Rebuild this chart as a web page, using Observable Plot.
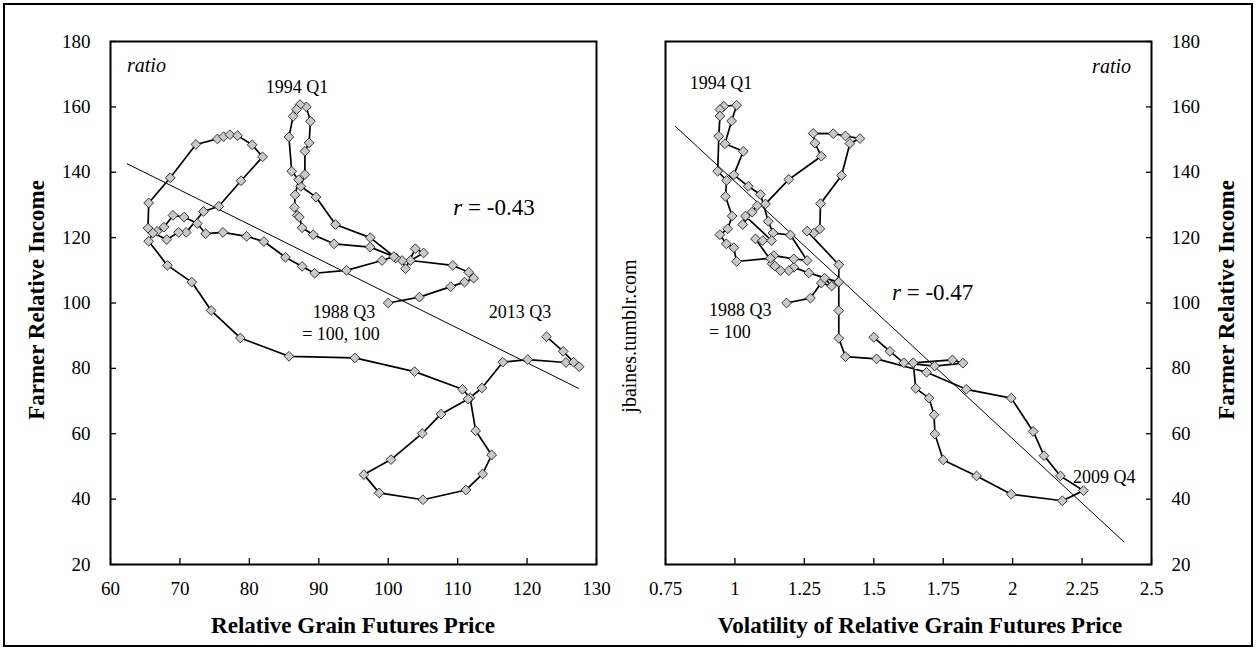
<!DOCTYPE html>
<html><head><meta charset="utf-8">
<script src="https://cdn.jsdelivr.net/npm/d3@7"></script>
<script src="https://cdn.jsdelivr.net/npm/@observablehq/plot@0.6"></script>
<style>
body{margin:0;background:#fff;}
#wrap{position:relative;width:1256px;height:650px;overflow:hidden;font-family:"Liberation Serif","Times New Roman",serif;background:#fff;}
#border{position:absolute;left:3px;top:3px;width:1250px;height:644px;border:2px solid #000;box-sizing:border-box;}
.p{position:absolute;top:0;}
.t{position:absolute;white-space:nowrap;color:#000;line-height:1;font-family:"Liberation Serif","Times New Roman",serif;}
.b{font-weight:bold;font-size:23px;}
.rot{transform:translate(-50%,-50%) rotate(-90deg);}
</style></head><body><div id="wrap"><div id="border"></div></div>
<script>
// ---- data ----
const incomeTicks = [20, 40, 60, 80, 100, 120, 140, 160, 180];
const priceTicks = [60, 70, 80, 90, 100, 110, 120, 130];
const volTicks = [0.75, 1, 1.25, 1.5, 1.75, 2, 2.25, 2.5];
const volTickLabels = ["0.75", "1", "1.25", "1.5", "1.75", "2", "2.25", "2.5"];

// Left panel: relative grain futures price vs farmer relative income (quarterly, 1988 Q3 -> 2013 Q3)
const leftPrice = [100.0,104.5,109.0,111.0,112.3,111.6,109.3,103.2,105.1,103.9,102.5,102.0,101.1,97.4,92.4,89.6,87.4,88.0,88.0,88.6,88.8,88.2,87.3,86.8,86.3,85.7,86.1,87.1,86.6,86.5,86.9,87.2,87.6,89.2,92.2,97.4,100.8,99.1,94.0,89.4,87.6,85.2,82.1,79.6,76.2,73.7,72.5,70.6,69.0,67.7,66.7,65.4,65.5,68.6,72.3,75.4,76.3,77.2,78.3,80.4,81.9,78.8,75.6,73.4,70.9,69.8,68.1,66.1,65.5,68.2,71.7,74.5,78.7,85.7,95.2,103.8,110.7,111.8,112.6,114.9,113.6,111.2,105.0,98.7,96.5,100.4,104.9,107.6,111.5,113.5,116.5,120.1,125.6,127.5,126.7,125.2,122.8];
const leftIncome = [100.0,101.8,105.0,106.4,107.6,109.4,111.5,113.0,115.3,116.6,110.5,113.0,113.8,120.0,124.0,132.4,135.7,139.3,146.4,149.0,155.6,160.0,160.7,159.2,157.1,150.8,140.3,137.7,133.1,129.3,126.8,126.3,123.0,120.9,118.1,117.1,114.2,113.0,110.0,109.1,111.2,114.0,118.8,120.4,121.6,121.2,124.3,126.3,126.8,123.2,121.9,122.9,130.6,138.3,148.5,150.2,150.9,151.5,151.2,148.4,144.7,137.4,129.6,128.0,121.6,121.6,119.4,121.4,118.9,111.5,106.4,97.7,89.3,83.7,83.2,79.0,73.6,71.0,60.9,53.5,47.7,42.8,39.8,41.9,47.5,52.1,60.1,66.0,70.6,74.0,81.9,82.7,81.8,80.5,81.9,85.2,89.7];

// Right panel: volatility of relative grain futures price vs farmer relative income
const rightVol = [1.186,1.272,1.311,1.348,1.323,1.372,1.266,1.212,1.194,1.164,1.134,1.140,1.212,1.260,1.200,1.137,1.120,1.092,1.048,0.996,1.030,0.964,0.988,1.006,0.960,0.946,0.946,0.942,0.938,0.970,0.966,0.990,0.974,0.946,0.969,0.996,1.006,1.128,1.144,1.074,1.100,1.132,1.038,1.028,1.062,1.080,1.110,1.194,1.311,1.288,1.282,1.354,1.398,1.450,1.414,1.384,1.308,1.306,1.284,1.260,1.374,1.374,1.374,1.374,1.398,1.510,1.690,1.833,1.995,2.074,2.113,2.172,2.255,2.179,1.995,1.870,1.750,1.720,1.717,1.699,1.651,1.642,1.783,1.821,1.719,1.608,1.558,1.500];
const rightIncome = [100.0,101.5,106.1,105.2,107.6,106.4,109.2,110.9,109.9,109.9,112.0,114.5,113.5,113.0,120.8,121.4,125.0,133.2,135.7,139.2,146.4,148.7,155.7,160.5,160.2,159.2,157.2,151.0,140.3,137.5,132.6,126.6,122.7,120.9,118.1,116.9,112.7,113.7,111.3,119.6,119.1,119.1,126.6,124.0,127.8,129.8,130.3,137.8,144.9,148.9,151.9,151.8,151.1,150.3,148.8,139.0,130.4,122.7,121.4,122.0,111.7,106.4,97.7,89.2,83.6,82.9,78.8,73.6,70.9,60.7,53.3,47.1,42.6,39.5,41.5,47.1,52.0,59.9,65.8,70.9,73.9,81.7,82.6,81.6,80.7,81.7,85.2,89.5];

// Fitted trend lines (end points)
const leftTrendX = [62.4, 127.4];
const leftTrendY = [142.6, 73.9];
const rightTrendX = [0.786, 2.401];
const rightTrendY = [154.0, 26.9];

// ---- build ----
const L = leftPrice.map((x, i) => ({x, y: leftIncome[i]}));
const R = rightVol.map((x, i) => ({x, y: rightIncome[i]}));
const LT = leftTrendX.map((x, i) => ({x, y: leftTrendY[i]}));
const RT = rightTrendX.map((x, i) => ({x, y: rightTrendY[i]}));

const font = {fontFamily: "Liberation Serif, Times New Roman, serif", fontSize: "19px", background: "transparent", overflow: "visible"};
const dotOpts = {x: "x", y: "y", symbol: "diamond2", r: 4.4, fill: "#c9c9c9", stroke: "#222", strokeWidth: 0.9};
const lineOpts = {x: "x", y: "y", stroke: "#000", strokeWidth: 1.7};

const leftPlot = Plot.plot({
  width: 628, height: 650,
  marginLeft: 110, marginRight: 32, marginTop: 41, marginBottom: 86,
  style: font,
  x: {domain: [60, 130]},
  y: {domain: [20, 180]},
  marks: [
    Plot.line(LT, {x: "x", y: "y", stroke: "#000", strokeWidth: 1}),
    Plot.line(L, lineOpts),
    Plot.dot(L, dotOpts),
    Plot.axisX({ticks: priceTicks, tickSize: 6, dy: -6, tickFormat: () => "", label: null, strokeWidth: 1.3}),
    Plot.axisX({ticks: priceTicks, tickSize: 0, tickPadding: 17, label: null, fontSize: 19}),
    Plot.axisY({ticks: incomeTicks, tickSize: 6, dx: 6, tickFormat: () => "", label: null, strokeWidth: 1.3}),
    Plot.axisY({ticks: incomeTicks, tickSize: 0, tickPadding: 20, label: null, fontSize: 19}),
    Plot.frame({stroke: "#000", strokeWidth: 2})
  ]
});

const rightPlot = Plot.plot({
  width: 628, height: 650,
  marginLeft: 37, marginRight: 105, marginTop: 41, marginBottom: 86,
  style: font,
  x: {domain: [0.75, 2.5]},
  y: {domain: [20, 180]},
  marks: [
    Plot.line(RT, {x: "x", y: "y", stroke: "#000", strokeWidth: 1}),
    Plot.line(R, lineOpts),
    Plot.dot(R, dotOpts),
    Plot.axisX({ticks: volTicks, tickSize: 6, dy: -6, tickFormat: () => "", label: null, strokeWidth: 1.3}),
    Plot.axisX({ticks: volTicks, tickSize: 0, tickPadding: 17, label: null, fontSize: 19, tickFormat: (d, i) => volTickLabels[i]}),
    Plot.axisY({anchor: "right", ticks: incomeTicks, tickSize: 6, dx: -6, tickFormat: () => "", label: null, strokeWidth: 1.3}),
    Plot.axisY({anchor: "right", ticks: incomeTicks, tickSize: 0, tickPadding: 20, label: null, fontSize: 19}),
    Plot.frame({stroke: "#000", strokeWidth: 2})
  ]
});

const wrap = document.getElementById("wrap");
leftPlot.classList.add("p"); leftPlot.style.left = "0px";
rightPlot.classList.add("p"); rightPlot.style.left = "628px";
wrap.appendChild(leftPlot);
wrap.appendChild(rightPlot);

function addText(html, left, top, cls, extra) {
  const d = document.createElement("div");
  d.className = "t " + (cls || "");
  d.innerHTML = html;
  d.style.left = left + "px"; d.style.top = top + "px";
  if (extra) Object.assign(d.style, extra);
  wrap.appendChild(d);
  return d;
}
// axis titles
addText("Relative Grain Futures Price", 353, 625, "b", {transform: "translate(-50%,-50%)"});
addText("Volatility of Relative Grain Futures Price", 920, 625, "b", {transform: "translate(-50%,-50%)"});
addText("Farmer Relative Income", 36, 300, "b rot");
addText("Farmer Relative Income", 1226, 300, "b rot");
addText("jbaines.tumblr.com", 629, 336, "rot", {fontSize: "20px"});
// annotations, left
addText("<i>ratio</i>", 127, 65, "", {fontSize: "20px", transform: "translateY(-50%)"});
addText("1994 Q1", 297, 87, "", {fontSize: "18px", transform: "translate(-50%,-50%)"});
addText("<i>r</i> = -0.43", 494, 207, "", {fontSize: "23px", transform: "translate(-50%,-50%)"});
addText("1988 Q3", 344, 312, "", {fontSize: "18px", transform: "translate(-50%,-50%)"});
addText("= 100, 100", 341, 334, "", {fontSize: "18px", transform: "translate(-50%,-50%)"});
addText("2013 Q3", 520, 312, "", {fontSize: "18px", transform: "translate(-50%,-50%)"});
// annotations, right
addText("<i>ratio</i>", 1131, 66, "", {fontSize: "20px", transform: "translate(-100%,-50%)"});
addText("1994 Q1", 721, 83, "", {fontSize: "18px", transform: "translate(-50%,-50%)"});
addText("<i>r</i> = -0.47", 892, 292, "", {fontSize: "23px", transform: "translateY(-50%)"});
addText("1988 Q3", 709, 310, "", {fontSize: "18px", transform: "translateY(-50%)"});
addText("= 100", 709, 332, "", {fontSize: "18px", transform: "translateY(-50%)"});
addText("2009 Q4", 1073, 477, "", {fontSize: "18px", transform: "translateY(-50%)"});
</script></body></html>
